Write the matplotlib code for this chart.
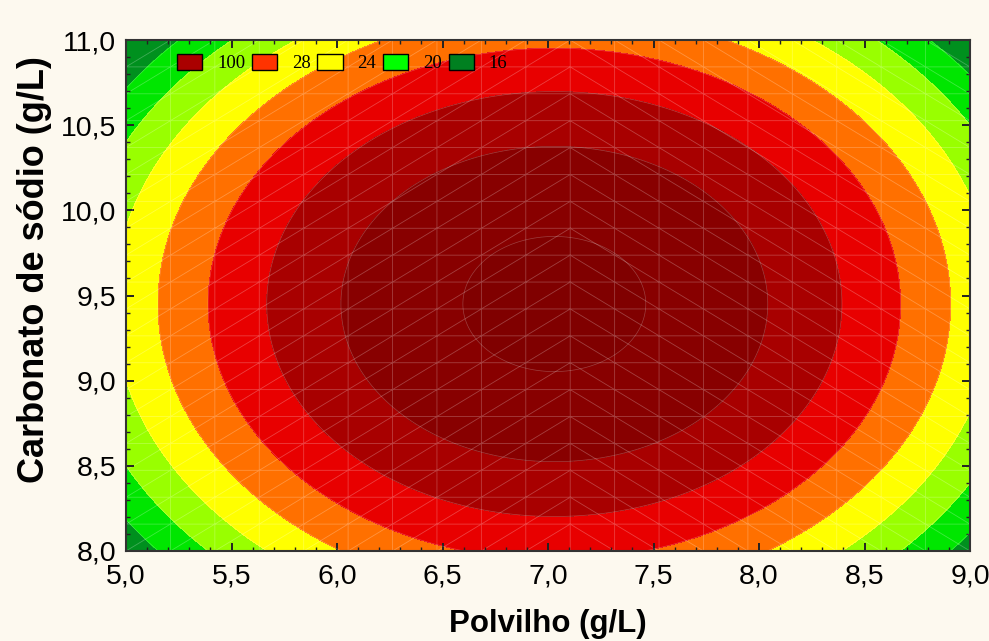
import numpy as np
import matplotlib
matplotlib.use("Agg")
import matplotlib.pyplot as plt
import matplotlib.tri as mtri
from matplotlib.patches import Patch
from matplotlib.ticker import MultipleLocator, FuncFormatter

# fitted response surface
peak = 30.45
centre_x, centre_y = 7.03, 9.45
curv_x, curv_y = 2.395, 2.86

# contour bounds and colours, outer band first
levels = [0, 16, 18, 20, 22, 24, 26, 28, 30, 100]
band_colors = ['#00901e', '#00e600', '#99ff00', '#ffff00', '#ff7000',
               '#e80000', '#a80000', '#880000', '#800000']

# legend as Statistica printed it
legend_labels = ['100', '28', '24', '20', '16']
legend_colors = ['#aa0000', '#ff3300', '#ffff00', '#00ff00', '#008020']

x_range = (5.0, 9.0)
y_range = (8.0, 11.0)
mesh_n = 20

bg = '#fdf9ef'

def surface(x, y):
    return peak - curv_x * (x - centre_x) ** 2 - curv_y * (y - centre_y) ** 2

fig = plt.figure(figsize=(9.89, 6.41), dpi=100, facecolor=bg)
ax = fig.add_axes([126 / 989, 1 - 551 / 641, (970 - 126) / 989, (551 - 40) / 641])

xs = np.linspace(*x_range, 400)
ys = np.linspace(*y_range, 400)
X, Y = np.meshgrid(xs, ys)
Z = surface(X, Y)
ax.contourf(X, Y, Z, levels=levels, colors=band_colors)
ax.contour(X, Y, Z, levels=levels[1:-1], colors='white', linewidths=0.5, alpha=0.25)

# triangle mesh the original package left visible
gx = np.linspace(*x_range, mesh_n)
gy = np.linspace(*y_range, mesh_n)
MX, MY = np.meshgrid(gx, gy, indexing='ij')
tris = []
for i in range(mesh_n - 1):
    for j in range(mesh_n - 1):
        a = i * mesh_n + j
        b = (i + 1) * mesh_n + j
        c = i * mesh_n + j + 1
        d = (i + 1) * mesh_n + j + 1
        if i < mesh_n // 2:
            tris += [[a, b, d], [a, d, c]]
        else:
            tris += [[a, b, c], [b, d, c]]
tri = mtri.Triangulation(MX.ravel(), MY.ravel(), tris)
ax.triplot(tri, color='white', linewidth=0.6, alpha=0.25)

ax.set_xlim(*x_range)
ax.set_ylim(*y_range)

comma = FuncFormatter(lambda v, p: f"{v:.1f}".replace('.', ','))
ax.xaxis.set_major_locator(MultipleLocator(0.5))
ax.yaxis.set_major_locator(MultipleLocator(0.5))
ax.xaxis.set_minor_locator(MultipleLocator(0.1))
ax.yaxis.set_minor_locator(MultipleLocator(0.1))
ax.xaxis.set_major_formatter(comma)
ax.yaxis.set_major_formatter(comma)
ax.tick_params(which='both', direction='in', top=True, right=True,
               color='#222222', labelcolor='black')
ax.tick_params(which='major', length=6, width=1.4, labelsize=20.5)
ax.tick_params(axis='x', which='major', pad=9)
ax.tick_params(axis='y', which='major', pad=7)
ax.tick_params(which='minor', length=3, width=1.0)
for lab in ax.get_xticklabels() + ax.get_yticklabels():
    lab.set_fontfamily('Liberation Sans')
for sp in ax.spines.values():
    sp.set_linewidth(1.5)
    sp.set_color('#333333')

ax.set_xlabel('Polvilho (g/L)', fontsize=22.5, fontweight='bold',
              fontfamily='Liberation Sans', labelpad=14)
ax.set_ylabel('Carbonato de sódio (g/L)', fontsize=26, fontweight='bold',
              fontfamily='Liberation Sans')
ax.yaxis.set_label_coords(-0.088, 0.55)

handles = [Patch(facecolor=c, edgecolor='black', linewidth=1.0) for c in legend_colors]
ax.legend(handles, legend_labels, loc='upper left', bbox_to_anchor=(0.04, 1.006),
          ncol=5, frameon=False, handlelength=1.35, handleheight=0.95,
          handletextpad=0.8, columnspacing=0.35,
          prop={'family': 'Liberation Serif', 'size': 13.5})

fig.savefig('out.png', dpi=100, facecolor=bg)
